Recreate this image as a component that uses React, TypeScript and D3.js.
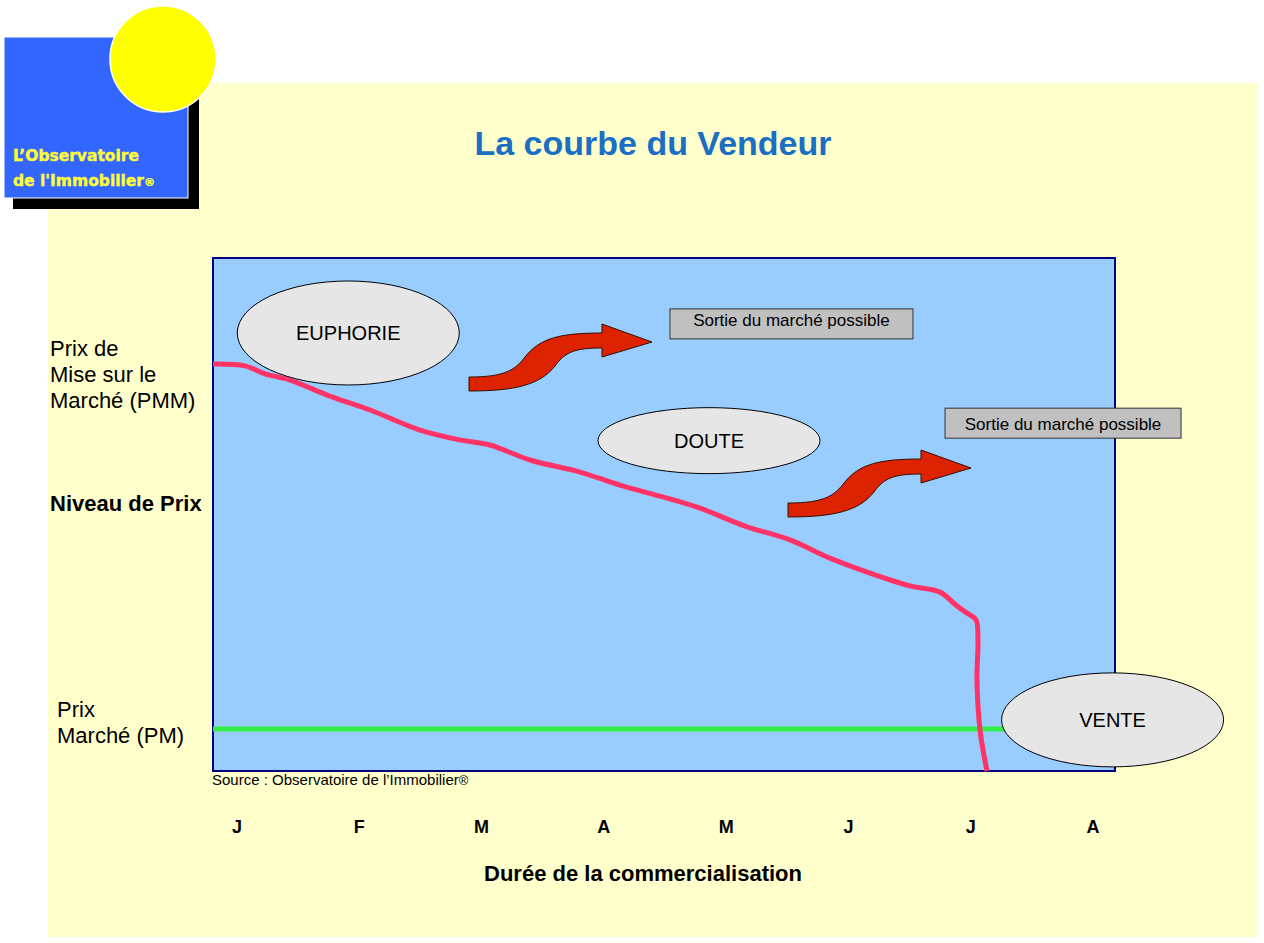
import React from "react";
import * as d3 from "d3";

// months along the bottom (duration of marketing)
const months = ["J", "F", "M", "A", "M", "J", "J", "A"];

// seller's asking price over time, in month units (x) and price level (y):
// 100 = Prix de Mise sur le Marché (PMM), 0 = Prix Marché (PM)
const sellerMonth = [
  -0.196, 0.065, 0.229, 0.433, 0.76, 1.088, 1.496, 1.824, 2.069, 2.396, 2.805,
  3.132, 3.459, 3.786, 4.154, 4.522, 4.849, 5.176, 5.503, 5.749, 5.871, 5.953,
  6.043, 6.059, 6.051, 6.076, 6.108, 6.133,
];
const sellerPrice = [
  100, 99.5, 97.3, 95.6, 91.2, 87.4, 81.9, 79.2, 77.8, 73.7, 70.4, 66.8, 63.8,
  60.5, 55.6, 51.8, 46.8, 42.7, 39.2, 37.5, 34.2, 32.1, 29.9, 24.4, 13.4, -0.3,
  -7.1, -11.5,
];

// market price line
const marketMonth = [-0.196, 6.35];
const marketPrice = [0, 0];

// phases (ellipses)
const phaseLabels = ["EUPHORIE", "DOUTE", "VENTE"];
const phaseMonth = [0.91, 3.86, 7.16];
const phasePrice = [108.5, 79, 2.5];
const phaseRy = [52, 33, 47];

// exit boxes
const exitLabel = "Sortie du marché possible";
const exitMonth = [4.534, 6.755];
const exitPrice = [115.1, 87.9];
const exitWidth = [243, 236];
const exitTextDy = [17, 22];

const FONT = "'Liberation Sans', Arial, Helvetica, sans-serif";

const arrowShape =
  "M0,0 C36,0 46,-7 56,-20 C71,-39 91,-44 133,-44 L133,-53 L183,-35 L133,-20 L133,-29 C106,-29 96,-25 86,-11 C71,8 46,14 0,14 Z";

export default function App() {
  const x = d3.scaleLinear().domain([0, 7]).range([237, 1093]);
  const y = d3.scaleLinear().domain([0, 100]).range([729, 364]);

  const plot = { x0: 213, x1: 1115, y0: 258, y1: 771 };

  const sellerPts = sellerMonth.map((m, i) => [m, sellerPrice[i]] as [number, number]);
  const marketPts = marketMonth.map((m, i) => [m, marketPrice[i]] as [number, number]);

  const line = d3
    .line<[number, number]>()
    .x((d) => x(d[0]))
    .y((d) => y(d[1]))
    .curve(d3.curveCatmullRom.alpha(0.5));

  const straight = d3
    .line<[number, number]>()
    .x((d) => x(d[0]))
    .y((d) => y(d[1]));

  return (
    <div style={{ position: "absolute", left: 0, top: 0 }}>
      <svg width={1264} height={943} style={{ display: "block" }}>
        <rect x={0} y={0} width={1264} height={943} fill="#ffffff" />
        <rect x={48} y={83} width={1210} height={854} fill="#ffffcc" />

        {/* logo */}
        <rect x={13} y={47} width={186} height={162} fill="#000000" />
        <rect x={4} y={37} width={184} height={161} fill="#3366ff" stroke="#ffffff" strokeWidth={1} />
        <circle cx={163} cy={59} r={53} fill="#ffff00" stroke="#ffffff" strokeWidth={1.5} />
        <text
          fill="#ffff33"
          fontFamily="'DejaVu Sans', Verdana, sans-serif"
          fontWeight="bold"
          fontSize={15.5}
          stroke="#ffff33"
          strokeWidth={0.4}
        >
          <tspan x={13} y={161}>L’Observatoire</tspan>
          <tspan x={13} y={186}>
            de l'Immobilier<tspan fontSize={11}>®</tspan>
          </tspan>
        </text>

        {/* title */}
        <text
          x={653}
          y={155}
          textAnchor="middle"
          fontFamily={FONT}
          fontWeight="bold"
          fontSize={34}
          fill="#1a6fc4"
        >
          La courbe du Vendeur
        </text>

        {/* plot area */}
        <rect
          x={plot.x0}
          y={plot.y0}
          width={plot.x1 - plot.x0}
          height={plot.y1 - plot.y0}
          fill="#99ccff"
          stroke="#000080"
          strokeWidth={2}
        />

        {/* left labels */}
        <g fontFamily={FONT} fontSize={22} fill="#000">
          <text x={50} y={356}>Prix de</text>
          <text x={50} y={382}>Mise sur le</text>
          <text x={50} y={408}>Marché (PMM)</text>
          <text x={50} y={511} fontWeight="bold">Niveau de Prix</text>
          <text x={57} y={717}>Prix</text>
          <text x={57} y={743}>Marché (PM)</text>
        </g>

        {/* exit boxes */}
        {exitMonth.map((m, i) => {
          const w = exitWidth[i];
          const cx = x(m);
          const top = y(exitPrice[i]);
          return (
            <g key={"exit" + i}>
              <rect
                x={cx - w / 2}
                y={top}
                width={w}
                height={30}
                fill="#c0c0c0"
                stroke="#333"
                strokeWidth={1}
              />
              <text
                x={cx}
                y={top + exitTextDy[i]}
                textAnchor="middle"
                fontFamily={FONT}
                fontSize={17}
                fill="#000"
              >
                {exitLabel}
              </text>
            </g>
          );
        })}

        {/* arrows */}
        {[
          [469, 377],
          [788, 503],
        ].map(([ax, ay], i) => (
          <path
            key={"arrow" + i}
            d={arrowShape}
            transform={`translate(${ax},${ay})`}
            fill="#dd2200"
            stroke="#331100"
            strokeWidth={1}
          />
        ))}

        {/* market price line */}
        <path d={straight(marketPts) ?? ""} fill="none" stroke="#33ee44" strokeWidth={5} />

        {/* seller curve */}
        <path
          d={line(sellerPts) ?? ""}
          fill="none"
          stroke="#ff3366"
          strokeWidth={5}
          strokeLinejoin="round"
        />

        {/* phase ellipses */}
        {phaseLabels.map((lab, i) => (
          <g key={lab}>
            <ellipse
              cx={x(phaseMonth[i])}
              cy={y(phasePrice[i])}
              rx={111}
              ry={phaseRy[i]}
              fill="#e6e6e6"
              stroke="#000"
              strokeWidth={1}
            />
            <text
              x={x(phaseMonth[i])}
              y={y(phasePrice[i]) + 7}
              textAnchor="middle"
              fontFamily={FONT}
              fontSize={20}
              fill="#000"
            >
              {lab}
            </text>
          </g>
        ))}

        {/* source */}
        <text x={212} y={785} fontFamily={FONT} fontSize={15} fill="#000">
          Source : Observatoire de l’Immobilier<tspan fontSize={13}>®</tspan>
        </text>

        {/* month axis */}
        {months.map((m, i) => (
          <text
            key={"m" + i}
            x={x(i)}
            y={833}
            textAnchor="middle"
            fontFamily={FONT}
            fontWeight="bold"
            fontSize={18}
            fill="#000"
          >
            {m}
          </text>
        ))}

        <text
          x={643}
          y={881}
          textAnchor="middle"
          fontFamily={FONT}
          fontWeight="bold"
          fontSize={22}
          fill="#000"
        >
          Durée de la commercialisation
        </text>
      </svg>
    </div>
  );
}
